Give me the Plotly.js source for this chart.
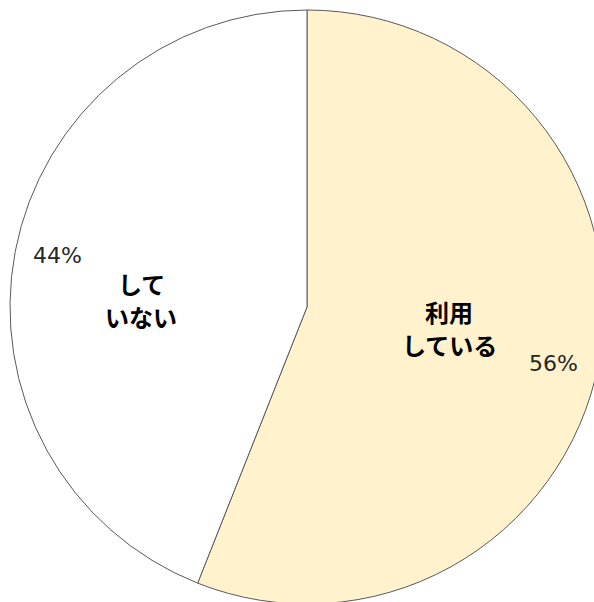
<!DOCTYPE html>
<html><head><meta charset="utf-8">
<script src="https://cdn.plot.ly/plotly-3.0.1.min.js"></script>
<style>html,body{margin:0;padding:0;overflow:hidden;background:#fff;}#chart{width:620px;height:620px;}</style>
</head><body><div id="chart"></div>
<script>
const categories = ['利用している', 'していない'];
const categoryLines = [['利用', 'している'], ['して', 'いない']];
const values = [56, 44];
const percentLabels = ['56%', '44%'];
const colors = ['#FFF2CC', '#FFFFFF'];

const W = 620, H = 620;
const px = x => x / W;
const py = y => 1 - y / H;

const jp = '"Noto Sans CJK JP", "Noto Sans", sans-serif';
const num = '"DejaVu Sans", "Noto Sans", sans-serif';

const trace = {
  type: 'pie',
  values: values,
  labels: categories,
  sort: false,
  direction: 'clockwise',
  rotation: 0,
  textinfo: 'none',
  hoverinfo: 'label+percent',
  marker: {colors: colors, line: {color: '#595959', width: 1}},
  domain: {x: [px(10), px(604)], y: [py(604), py(10)]}
};

const catPos = [[449, 312], [141, 284]];
const lineGap = 32;
const pctPos = [[553, 363], [57, 255]];
const annotations = [];
categoryLines.forEach((lines, i) => {
  lines.forEach((t, j) => {
    annotations.push({text: '<b>' + t + '</b>', x: px(catPos[i][0]), y: py(catPos[i][1] + j * lineGap),
      xref: 'paper', yref: 'paper', showarrow: false, xanchor: 'center', yanchor: 'middle',
      borderpad: 0, font: {family: jp, size: 24, color: '#000'}});
  });
  annotations.push({text: percentLabels[i], x: px(pctPos[i][0]), y: py(pctPos[i][1]),
    xref: 'paper', yref: 'paper', showarrow: false, xanchor: 'center', yanchor: 'middle',
    font: {family: num, size: 22, color: '#262626'}});
});

Plotly.newPlot('chart', [trace], {
  width: W, height: H,
  margin: {l: 0, r: 0, t: 0, b: 0},
  showlegend: false,
  paper_bgcolor: '#fff',
  annotations: annotations
}, {displayModeBar: false, staticPlot: true});
</script></body></html>
